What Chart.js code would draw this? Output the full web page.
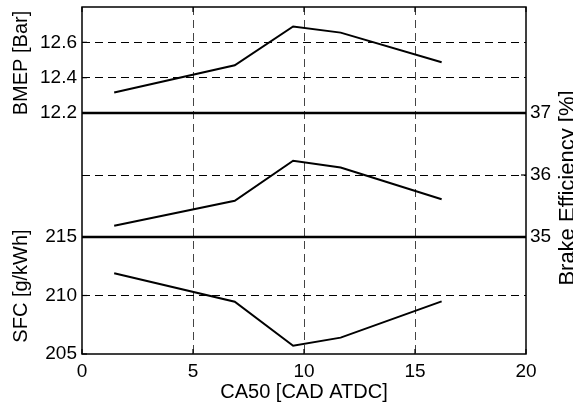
<!DOCTYPE html>
<html>
<head>
<meta charset="utf-8">
<script src="https://cdn.jsdelivr.net/npm/chart.js@4"></script>
<style>
  html, body { margin: 0; padding: 0; background: #fff; }
  #wrap { width: 573px; height: 406px; position: relative; }
</style>
</head>
<body>
<div id="wrap"><canvas id="engineChart"></canvas></div>
<script>
// CA50 sweep
const ca50 = [1.45, 6.88, 9.51, 11.65, 16.2];
const bmep = [12.316, 12.47, 12.69, 12.655, 12.487];
const brakeEff = [35.18, 35.585, 36.23, 36.12, 35.61];
const sfc = [211.9, 209.47, 205.7, 206.4, 209.5];

const xTicks = [0, 5, 10, 15, 20];
const bmepTicks = [12.2, 12.4, 12.6];
const effTicks = [35, 36, 37];
const sfcTicks = [205, 210, 215];

const FAMILY = '"Liberation Sans", Arial, sans-serif';
const FONT = { family: FAMILY, size: 19 };
const TITLE_FONT = { family: FAMILY, size: 20 };
const LEFT_W = 82, RIGHT_W = 47, BOTTOM_H = 52;

function pts(ys){ return ca50.map((x, i) => ({ x: x, y: ys[i] })); }

// fixed width, and no extra half-label padding so stacks line up
function fixW(w){ return function(s){ s.width = w; s.paddingTop = 0; s.paddingBottom = 0; }; }

function gridAt(list){
  return function(ctx){
    const v = ctx.tick && ctx.tick.value;
    return list.some(t => Math.abs(t - v) < 1e-6) ? '#000' : 'rgba(0,0,0,0)';
  };
}

function leftAxis(min, max, step, weight, labels, gridList){
  return {
    type: 'linear', position: 'left', stack: 'L', stackWeight: weight,
    min: min, max: max, afterFit: fixW(LEFT_W),
    border: { display: false, dash: [8, 5] },
    grid: { drawTicks: false, color: gridAt(gridList), lineWidth: 1 },
    ticks: {
      stepSize: step, padding: 5, color: '#000', font: FONT, autoSkip: false,
      callback: function(v){
        return labels.some(t => Math.abs(t - v) < 1e-6) ? String(v.toFixed(step < 1 ? 1 : 0)) : '';
      }
    }
  };
}

function dummyRight(weight){
  return {
    type: 'linear', position: 'right', stack: 'R', stackWeight: weight,
    min: 0, max: 1, afterFit: fixW(RIGHT_W),
    border: { display: false }, grid: { display: false, drawTicks: false },
    ticks: { display: false }
  };
}

const frame = {
  id: 'frame',
  afterDraw(chart){
    const c = chart.ctx, a = chart.chartArea, s = chart.scales;
    c.save();
    c.strokeStyle = '#000';
    // separators between panels
    c.lineWidth = 2.5;
    [s.yB.getPixelForValue(12.2), s.yS.getPixelForValue(215)].forEach(y => {
      c.beginPath(); c.moveTo(a.left, y); c.lineTo(a.right, y); c.stroke();
    });
    // outer box
    c.lineWidth = 1.5;
    c.strokeRect(a.left, a.top, a.right - a.left, a.bottom - a.top);
    // inward ticks
    c.lineWidth = 1.2;
    const tl = 5;
    xTicks.forEach(v => {
      const x = s.x.getPixelForValue(v);
      c.beginPath(); c.moveTo(x, a.bottom); c.lineTo(x, a.bottom - tl);
      c.moveTo(x, a.top); c.lineTo(x, a.top + tl); c.stroke();
    });
    bmepTicks.forEach(v => {
      const y = s.yB.getPixelForValue(v);
      c.beginPath(); c.moveTo(a.left, y); c.lineTo(a.left + tl, y); c.stroke();
    });
    sfcTicks.forEach(v => {
      const y = s.yS.getPixelForValue(v);
      c.beginPath(); c.moveTo(a.left, y); c.lineTo(a.left + tl, y); c.stroke();
    });
    effTicks.forEach(v => {
      const y = s.yE.getPixelForValue(v);
      c.beginPath(); c.moveTo(a.right, y); c.lineTo(a.right - tl, y); c.stroke();
    });
    // axis titles (all read bottom-to-top)
    c.fillStyle = '#000';
    c.textAlign = 'center';
    c.textBaseline = 'middle';
    const titles = [
      ['BMEP [Bar]', 21, 63, 20],
      ['SFC [g/kWh]', 21, 286, 20],
      ['Brake Efficiency [%]', 568, 188, 22]
    ];
    titles.forEach(t => {
      c.save(); c.translate(t[1], t[2]); c.rotate(-Math.PI / 2);
      c.font = t[3] + 'px ' + FAMILY;
      c.fillText(t[0], 0, 0); c.restore();
    });
    c.restore();
  }
};

const lineStyle = { borderColor: '#000', borderWidth: 2, pointRadius: 0, fill: false, tension: 0 };

new Chart(document.getElementById('engineChart').getContext('2d'), {
  type: 'line',
  data: {
    datasets: [
      Object.assign({ label: 'BMEP', data: pts(bmep), yAxisID: 'yB' }, lineStyle),
      Object.assign({ label: 'Brake Efficiency', data: pts(brakeEff), yAxisID: 'yE' }, lineStyle),
      Object.assign({ label: 'SFC', data: pts(sfc), yAxisID: 'yS' }, lineStyle)
    ]
  },
  options: {
    responsive: true, maintainAspectRatio: false, animation: false,
    layout: { padding: { top: 7, left: 0, right: 0, bottom: 0 } },
    plugins: { legend: { display: false }, tooltip: { enabled: false } },
    scales: {
      x: {
        type: 'linear', min: 0, max: 20,
        afterFit: function(s){ s.height = BOTTOM_H; s.paddingLeft = 0; s.paddingRight = 0; },
        border: { display: false, dash: [8, 5] },
        grid: { drawTicks: false, color: function(ctx){
          const v = ctx.tick && ctx.tick.value;
          return (v > 0 && v < 20) ? '#444' : 'rgba(0,0,0,0)';
        } },
        ticks: { stepSize: 5, padding: 6, color: '#000', font: FONT, maxRotation: 0 },
        title: { display: true, text: 'CA50 [CAD ATDC]', color: '#000', font: TITLE_FONT, padding: { top: 0, bottom: 2 } }
      },
      // left stack is laid out bottom-up, right stack top-down (definition order)
      yS: leftAxis(205, 215, 5, 117, sfcTicks, [210]),
      yM: leftAxis(35, 37, 1, 124, [], [36]),
      yB: leftAxis(12.2, 12.8, 0.2, 106, bmepTicks, [12.4, 12.6]),
      rB: dummyRight(106),
      yE: {
        type: 'linear', position: 'right', stack: 'R', stackWeight: 124,
        min: 35, max: 37, afterFit: fixW(RIGHT_W),
        border: { display: false }, grid: { display: false, drawTicks: false },
        ticks: { stepSize: 1, padding: 4, color: '#000', font: FONT, autoSkip: false }
      },
      rS: dummyRight(117)
    }
  },
  plugins: [frame]
});
</script>
</body>
</html>
